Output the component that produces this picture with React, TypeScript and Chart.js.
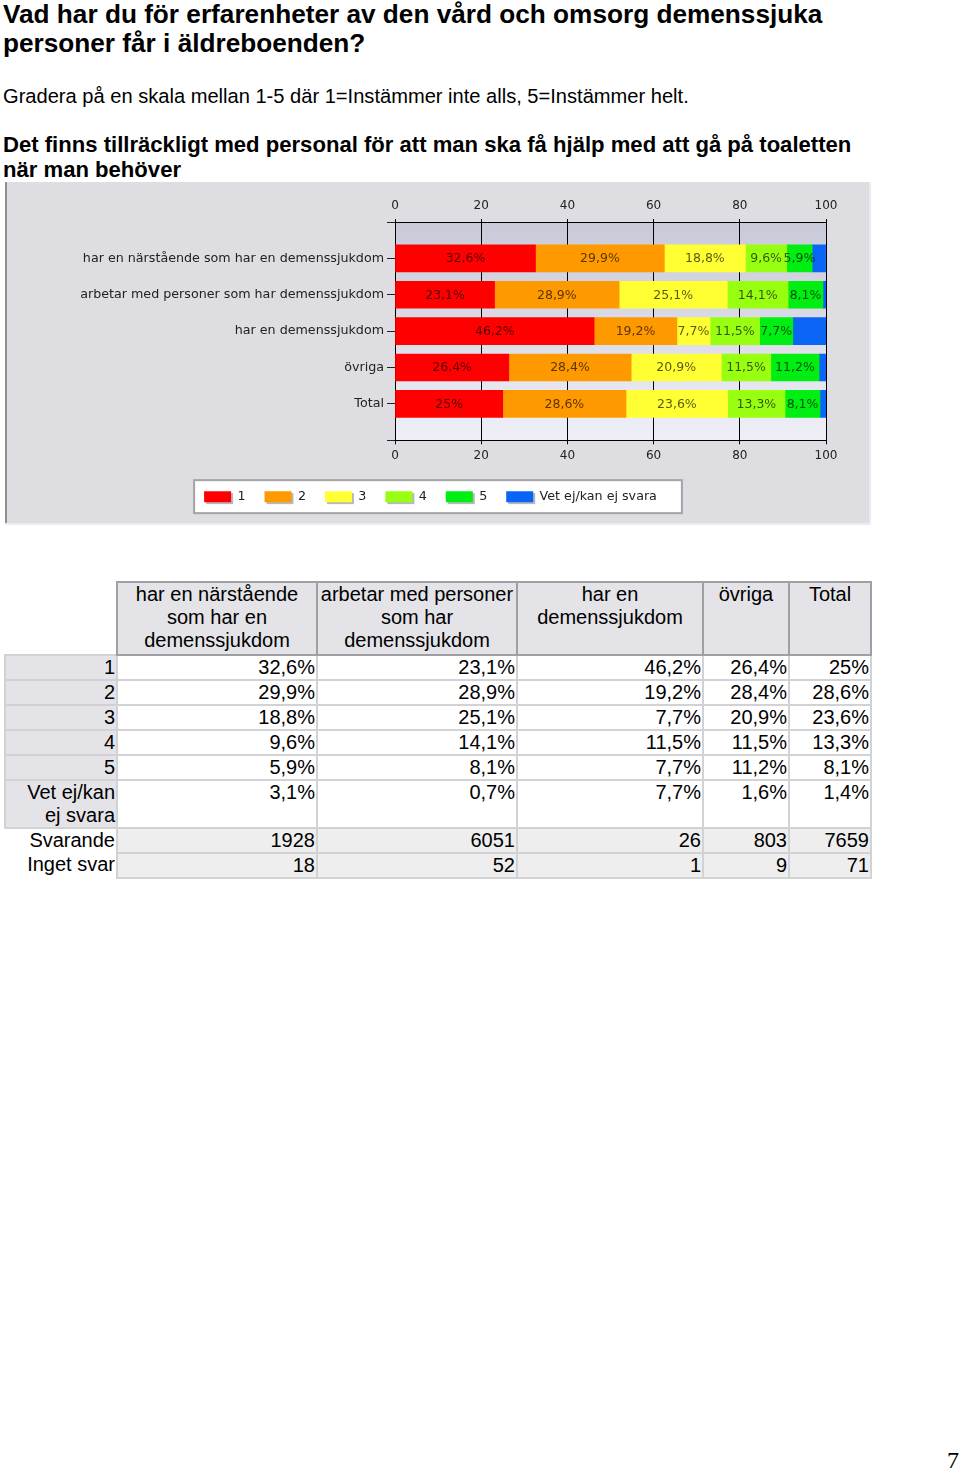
import React, { useEffect, useRef } from 'react';
import { Chart, registerables } from 'chart.js';

Chart.register(...registerables);

// ---- data ----
const categories = [
  'har en närstående som har en demenssjukdom',
  'arbetar med personer som har demenssjukdom',
  'har en demenssjukdom',
  'övriga',
  'Total',
];
const seriesLabels = ['1', '2', '3', '4', '5', 'Vet ej/kan ej svara'];
const s1 = [32.6, 23.1, 46.2, 26.4, 25];
const s2 = [29.9, 28.9, 19.2, 28.4, 28.6];
const s3 = [18.8, 25.1, 7.7, 20.9, 23.6];
const s4 = [9.6, 14.1, 11.5, 11.5, 13.3];
const s5 = [5.9, 8.1, 7.7, 11.2, 8.1];
const sVet = [3.1, 0.7, 7.7, 1.6, 1.4];
const svarande = [1928, 6051, 26, 803, 7659];
const ingetSvar = [18, 52, 1, 9, 71];
const xTickStep = 20;
const xMin = 0;
const xMax = 100;
const seriesColors = ['#ff0000', '#ff9900', '#ffff33', '#99ff11', '#00ee11', '#0a64f5'];

const seriesValues = [s1, s2, s3, s4, s5, sVet];
const fmtPct = (v: number) => String(v).replace('.', ',') + '%';

const LABEL_FONT = 'DejaVu Sans';

function ChartBlock() {
  const ref = useRef<HTMLCanvasElement | null>(null);
  useEffect(() => {
    if (!ref.current) return;
    const yLabels = ['', ...categories, ''];
    const pad = (arr: number[]) => [null, ...arr, null];

    const bgPlugin = {
      id: 'bgPlugin',
      beforeDraw(chart: any) {
        const { ctx, width, height, chartArea } = chart;
        ctx.save();
        ctx.fillStyle = '#dddde2';
        ctx.fillRect(0, 0, width, height);
        ctx.fillStyle = '#8f8f92';
        ctx.fillRect(0, 0, 2, height);
        ctx.fillStyle = '#ececf0';
        ctx.fillRect(width - 2, 0, 2, height);
        ctx.fillRect(0, height - 2, width, 2);
        const g = ctx.createLinearGradient(0, chartArea.top, 0, chartArea.bottom);
        g.addColorStop(0, '#c9cad8');
        g.addColorStop(1, '#eeeff7');
        ctx.fillStyle = g;
        ctx.fillRect(chartArea.left, chartArea.top, chartArea.right - chartArea.left, chartArea.bottom - chartArea.top);
        const lg = chart.legend;
        if (lg && lg.legendHitBoxes && lg.legendHitBoxes.length) {
          const hb = lg.legendHitBoxes;
          const left = Math.min(...hb.map((h: any) => h.left)) - 10;
          const right = Math.max(...hb.map((h: any) => h.left + h.width)) + 25;
          const cy = hb[0].top + hb[0].height / 2;
          ctx.fillStyle = '#ffffff';
          ctx.fillRect(left, cy - 16.5, right - left, 33);
          ctx.strokeStyle = '#a4a4a8';
          ctx.lineWidth = 2;
          ctx.strokeRect(left, cy - 16.5, right - left, 33);
          ctx.fillStyle = '#b8b8bc';
          const bh = lg.options.labels.boxHeight;
          const bw = lg.options.labels.boxWidth;
          hb.forEach((h: any) => {
            ctx.fillRect(h.left + 2, cy - bh / 2 + 2, bw, bh);
          });
        }
        ctx.restore();
      },
    };

    const labelPlugin = {
      id: 'segLabels',
      afterDatasetsDraw(chart: any) {
        const { ctx } = chart;
        ctx.save();
        ctx.font = `12.5px "${LABEL_FONT}"`;
        ctx.textAlign = 'center';
        ctx.textBaseline = 'middle';
        ctx.fillStyle = 'rgba(0,0,0,0.66)';
        const n = chart.data.datasets.length;
        chart.data.datasets.forEach((ds: any, di: number) => {
          if (di === n - 1) return;
          const meta = chart.getDatasetMeta(di);
          meta.data.forEach((el: any, i: number) => {
            const v = ds.data[i];
            if (v == null) return;
            const p = el.getProps(['x', 'base', 'y'], true);
            ctx.fillText(fmtPct(v), (p.x + p.base) / 2, p.y + 0.5);
          });
        });
        ctx.restore();
      },
    };

    const tickFont = { family: LABEL_FONT, size: 12 };

    const chart = new Chart(ref.current, {
      type: 'bar',
      data: {
        labels: yLabels,
        datasets: seriesValues.map((vals, i) => ({
          label: seriesLabels[i],
          data: pad(vals),
          backgroundColor: seriesColors[i],
          borderWidth: 0,
          barThickness: 27,
          xAxisID: 'x',
          yAxisID: 'y',
        })),
      },
      options: {
        indexAxis: 'y',
        responsive: false,
        animation: false,
        devicePixelRatio: 1,
        layout: { padding: { left: 0, right: 15, top: 0, bottom: 12 } },
        plugins: {
          legend: {
            position: 'bottom',
            align: 'center',
            labels: {
              boxWidth: 27,
              boxHeight: 11,
              padding: 19,
              color: '#222',
              font: { family: LABEL_FONT, size: 12.7 },
            },
          },
          tooltip: { enabled: false },
        },
        scales: {
          x: {
            type: 'linear',
            position: 'bottom',
            stacked: true,
            min: xMin,
            max: xMax,
            afterFit: (s: any) => { s.height = 31; },
            ticks: { stepSize: xTickStep, padding: 4, color: '#222', font: tickFont },
            grid: { color: '#000', lineWidth: 1, drawOnChartArea: true, drawTicks: true, tickLength: 4 },
            border: { color: '#000', width: 1 },
          },
          x2: {
            type: 'linear',
            position: 'top',
            min: xMin,
            max: xMax,
            afterFit: (s: any) => { s.height = 40; },
            ticks: { stepSize: xTickStep, padding: 6, color: '#222', font: tickFont },
            grid: { color: '#000', lineWidth: 1, drawOnChartArea: false, drawTicks: true, tickLength: 3 },
            border: { color: '#000', width: 1 },
          },
          y: {
            type: 'category',
            stacked: true,
            offset: false,
            afterFit: (s: any) => { s.width = 390; },
            grid: { offset: false, drawOnChartArea: false, drawTicks: true, tickLength: 8, color: '#222' },
            border: { color: '#000', width: 1 },
            ticks: { padding: 3, color: '#222', autoSkip: false, font: { family: LABEL_FONT, size: 12.7 } },
          },
          y2: {
            type: 'linear',
            position: 'right',
            display: true,
            afterFit: (s: any) => { s.width = 30; },
            ticks: { display: false },
            grid: { display: false },
            border: { display: false },
          },
        },
      } as any,
      plugins: [bgPlugin, labelPlugin],
    });
    return () => chart.destroy();
  }, []);
  return (
    <canvas
      ref={ref}
      width={866}
      height={343}
      style={{ position: 'absolute', left: 5, top: 182, width: 866, height: 343 }}
    />
  );
}

const headerCell: React.CSSProperties = {
  background: '#e4e4e8',
  border: '2px solid #a0a0a4',
  textAlign: 'center',
  verticalAlign: 'top',
  padding: '0 0 2px 0',
};
const rowLabelCell: React.CSSProperties = {
  background: '#e4e4e8',
  border: '2px solid #d2d2d4',
  textAlign: 'right',
  verticalAlign: 'top',
  padding: '0 1px 0 6px',
};
const pctCell: React.CSSProperties = {
  background: '#ffffff',
  border: '2px solid #d2d2d4',
  textAlign: 'right',
  verticalAlign: 'top',
  padding: '0 1px 0 0',
};
const countLabelCell: React.CSSProperties = {
  textAlign: 'right',
  verticalAlign: 'top',
  padding: '0 1px 0 0',
};
const countCell: React.CSSProperties = {
  background: '#eeeeee',
  border: '2px solid #d2d2d4',
  textAlign: 'right',
  verticalAlign: 'top',
  padding: '0 1px 0 0',
};

const colWidths = [112, 200, 200, 186, 86, 82];

function DataTable() {
  return (
    <table
      style={{
        position: 'absolute',
        left: 4,
        top: 581,
        borderCollapse: 'collapse',
        tableLayout: 'fixed',
        width: colWidths.reduce((a, b) => a + b, 0),
        fontSize: 20,
        lineHeight: '23px',
        fontFamily: '"Liberation Sans", Arial, sans-serif',
      }}
    >
      <colgroup>
        {colWidths.map((w, i) => (
          <col key={i} style={{ width: w }} />
        ))}
      </colgroup>
      <tbody>
        <tr>
          <td style={{ padding: 0, border: 'none' }}></td>
          {categories.map((c, i) => (
            <td key={i} style={headerCell}>{c}</td>
          ))}
        </tr>
        {seriesLabels.map((lab, r) => (
          <tr key={r}>
            <td style={rowLabelCell}>{lab}</td>
            {seriesValues[r].map((v, i) => (
              <td key={i} style={pctCell}>{fmtPct(v)}</td>
            ))}
          </tr>
        ))}
        <tr>
          <td style={countLabelCell}>Svarande</td>
          {svarande.map((v, i) => (
            <td key={i} style={countCell}>{v}</td>
          ))}
        </tr>
        <tr>
          <td style={countLabelCell}>Inget svar</td>
          {ingetSvar.map((v, i) => (
            <td key={i} style={countCell}>{v}</td>
          ))}
        </tr>
      </tbody>
    </table>
  );
}

export default function App() {
  return (
    <div
      style={{
        position: 'absolute',
        left: 0,
        top: 0,
        width: 960,
        height: 1470,
        background: '#ffffff',
        fontFamily: '"Liberation Sans", Arial, sans-serif',
        color: '#000',
        overflow: 'hidden',
      }}
    >
      <div style={{ position: 'absolute', left: 3, top: 0, fontSize: 26.2, fontWeight: 'bold', lineHeight: '29px', whiteSpace: 'nowrap' }}>
        Vad har du för erfarenheter av den vård och omsorg demenssjuka
        <br />
        personer får i äldreboenden?
      </div>
      <div style={{ position: 'absolute', left: 3, top: 85, fontSize: 20.1, lineHeight: '23px', whiteSpace: 'nowrap' }}>
        Gradera på en skala mellan 1-5 där 1=Instämmer inte alls, 5=Instämmer helt.
      </div>
      <div style={{ position: 'absolute', left: 3, top: 132, fontSize: 22.1, fontWeight: 'bold', lineHeight: '25px', whiteSpace: 'nowrap' }}>
        Det finns tillräckligt med personal för att man ska få hjälp med att gå på toaletten
        <br />
        när man behöver
      </div>
      <ChartBlock />
      <DataTable />
      <div style={{ position: 'absolute', left: 947, top: 1446, fontSize: 24, lineHeight: '28px', fontFamily: '"Liberation Serif", "Times New Roman", serif' }}>
        7
      </div>
    </div>
  );
}
